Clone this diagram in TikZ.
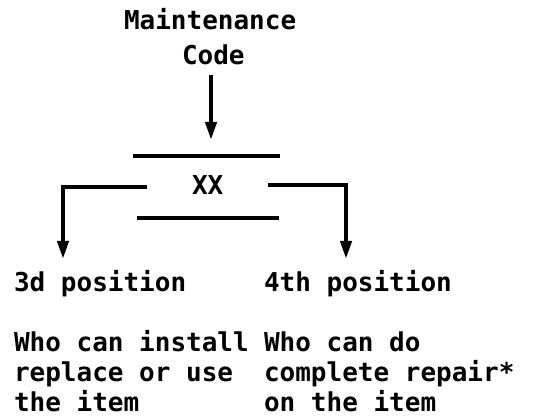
\documentclass[tikz,border=0pt]{standalone}
\usepackage{fontspec}
\setmonofont{DejaVu Sans Mono}
\usetikzlibrary{arrows.meta}
\begin{document}
\begin{tikzpicture}[x=1pt,y=-1pt,
  font=\ttfamily\bfseries\fontsize{26}{31}\selectfont,
  line width=4pt,
  lbl/.style={inner sep=0pt, anchor=base west},
  conn/.style={-{Triangle[length=18pt,width=11pt]}},
  bar/.style={line cap=butt}]
\useasboundingbox (0,0) rectangle (555,419);
% texts
\node[lbl] (m1) at (122,30) {Maintenance};
\node[lbl] (m2) at (180,65) {Code};
\node[lbl] (xx) at (190,195) {XX};
\node[lbl] (p3) at (12,292) {3d position};
\node[lbl] (p4) at (262,292) {4th position};
\node[lbl] (l1) at (12,352) {Who can install};
\node[lbl] (l2) at (12,382) {replace or use};
\node[lbl] (l3) at (12,412) {the item};
\node[lbl] (r1) at (262,352) {Who can do};
\node[lbl] (r2) at (262,382) {complete repair*};
\node[lbl] (r3) at (262,412) {on the item};
% coordinates
\coordinate (ca) at (211,75);
\coordinate (cb) at (211,140);
\coordinate (t1) at (133,156);
\coordinate (t2) at (280,156);
\coordinate (b1) at (137,218);
\coordinate (b2) at (279,218);
\coordinate (ls) at (147,187);
\coordinate (lc) at (63,187);
\coordinate (le) at (63,259);
\coordinate (rs) at (268,185);
\coordinate (rc) at (346,185);
\coordinate (re) at (346,259);
% connectors
\draw[conn] (ca) -- (cb);
\draw[bar] (t1) -- (t2);
\draw[bar] (b1) -- (b2);
\draw[conn] (ls) -- (lc) -- (le);
\draw[conn] (rs) -- (rc) -- (re);
\end{tikzpicture}
\end{document}
